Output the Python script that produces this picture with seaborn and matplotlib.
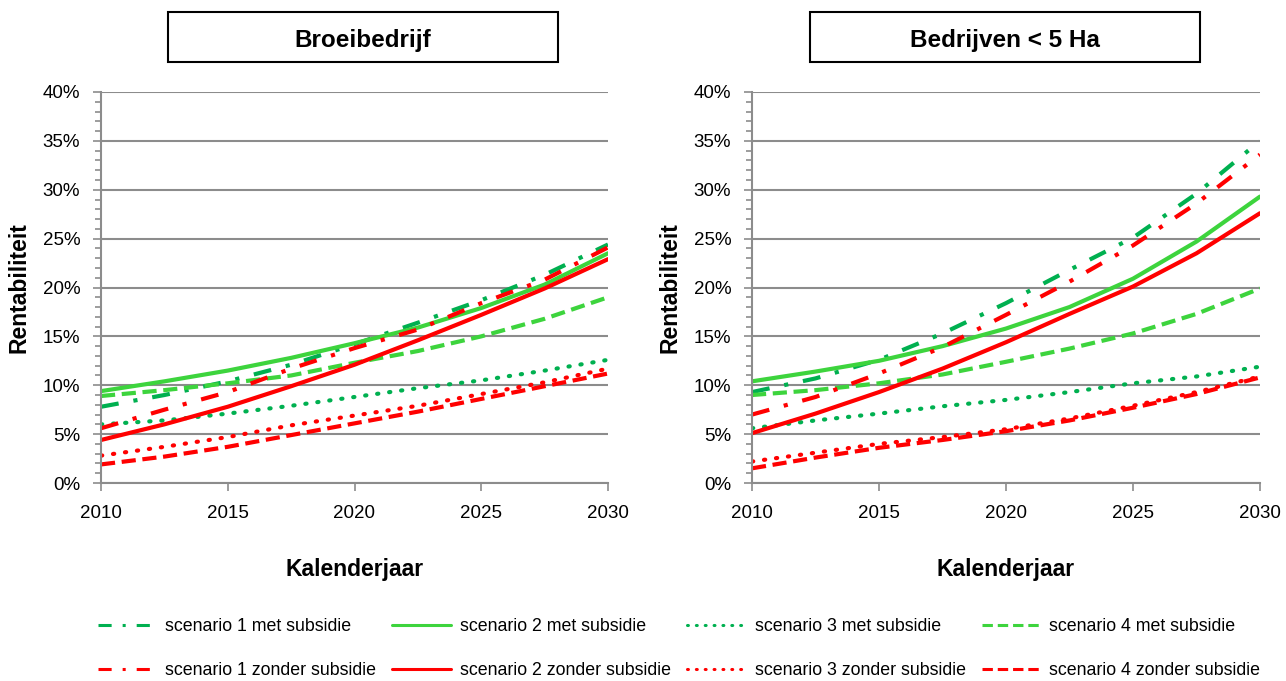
import seaborn as sns
import matplotlib.pyplot as plt
import matplotlib.patches as mpatches
from matplotlib.ticker import MultipleLocator, PercentFormatter
import pandas as pd

# Data (percent)
years = [2010, 2012.5, 2015, 2017.5, 2020, 2022.5, 2025, 2027.5, 2030]

broei = {
    'scenario 1 met subsidie':    [7.8, 9.0, 10.4, 12.1, 14.2, 16.4, 18.7, 21.3, 24.4],
    'scenario 2 met subsidie':    [9.4, 10.4, 11.5, 12.8, 14.3, 15.9, 17.9, 20.3, 23.5],
    'scenario 3 met subsidie':    [6.0, 6.4, 7.1, 7.9, 8.8, 9.7, 10.5, 11.5, 12.6],
    'scenario 4 met subsidie':    [8.9, 9.5, 10.2, 11.0, 12.3, 13.5, 15.0, 16.8, 19.0],
    'scenario 1 zonder subsidie': [5.6, 7.5, 9.3, 11.7, 13.8, 15.7, 18.4, 20.8, 24.1],
    'scenario 2 zonder subsidie': [4.4, 6.0, 7.8, 9.9, 12.1, 14.6, 17.2, 19.9, 22.9],
    'scenario 3 zonder subsidie': [2.8, 3.7, 4.7, 5.9, 6.9, 7.9, 9.1, 10.3, 11.7],
    'scenario 4 zonder subsidie': [1.9, 2.7, 3.7, 4.9, 6.1, 7.3, 8.6, 9.9, 11.2],
}

klein = {
    'scenario 1 met subsidie':    [9.3, 10.7, 12.6, 15.3, 18.4, 21.8, 25.1, 29.6, 35.0],
    'scenario 2 met subsidie':    [10.4, 11.4, 12.5, 14.0, 15.8, 18.0, 20.9, 24.7, 29.3],
    'scenario 3 met subsidie':    [5.6, 6.4, 7.1, 7.85, 8.5, 9.3, 10.2, 10.9, 11.9],
    'scenario 4 met subsidie':    [9.0, 9.5, 10.2, 11.1, 12.4, 13.75, 15.3, 17.3, 19.9],
    'scenario 1 zonder subsidie': [7.0, 8.8, 11.2, 13.9, 17.2, 20.6, 24.3, 28.6, 33.6],
    'scenario 2 zonder subsidie': [5.1, 7.1, 9.3, 11.7, 14.4, 17.3, 20.1, 23.5, 27.6],
    'scenario 3 zonder subsidie': [2.2, 3.1, 4.0, 4.7, 5.5, 6.6, 7.9, 9.3, 10.9],
    'scenario 4 zonder subsidie': [1.5, 2.6, 3.6, 4.4, 5.3, 6.4, 7.7, 9.1, 10.8],
}

titles = ['Broeibedrijf', 'Bedrijven < 5 Ha']

dark_green = '#00B050'
light_green = '#3DD43D'
red = '#FF0000'

dashdot = (4.3, 3.6, 1, 3.6)
dotted = (0.3, 2.6)
dashed = (3.4, 1.6)
styles = {
    'scenario 1 met subsidie':    (dark_green, dashdot),
    'scenario 2 met subsidie':    (light_green, None),
    'scenario 3 met subsidie':    (dark_green, dotted),
    'scenario 4 met subsidie':    (light_green, dashed),
    'scenario 1 zonder subsidie': (red, dashdot),
    'scenario 2 zonder subsidie': (red, None),
    'scenario 3 zonder subsidie': (red, dotted),
    'scenario 4 zonder subsidie': (red, dashed),
}

sns.set_style("white")
plt.rcParams['font.family'] = ['Liberation Sans Narrow', 'Liberation Sans', 'DejaVu Sans']
for k in ['text.color', 'axes.labelcolor', 'xtick.labelcolor', 'ytick.labelcolor']:
    plt.rcParams[k] = 'black'

fig = plt.figure(figsize=(12.86, 6.81), dpi=100)
W, H = 1286, 681
axes = [fig.add_axes([101 / W, (H - 483) / H, 507 / W, 391 / H]),
        fig.add_axes([752 / W, (H - 483) / H, 508 / W, 391 / H])]
boxes = [(168, 558), (810, 1200)]

for ax, data, title, (bx0, bx1) in zip(axes, [broei, klein], titles, boxes):
    for name, vals in data.items():
        color, dash = styles[name]
        df = pd.DataFrame({'jaar': years, 'r': vals})
        sns.lineplot(data=df, x='jaar', y='r', ax=ax, color=color, lw=3, label=name)
        line = ax.get_lines()[-1]
        if dash:
            line.set_dashes(dash)
            line.set_dash_capstyle('round' if dash == dotted else 'butt')
    ax.get_legend().remove()
    ax.set_xlim(2010, 2030)
    ax.set_ylim(0, 40)
    ax.set_xticks([2010, 2015, 2020, 2025, 2030])
    ax.yaxis.set_major_locator(MultipleLocator(5))
    ax.yaxis.set_minor_locator(MultipleLocator(1))
    ax.yaxis.set_major_formatter(PercentFormatter(decimals=0))
    ax.grid(axis='y', color='#8C8C8C', lw=1.5)
    ax.set_axisbelow(True)
    for s in ['top', 'right']:
        ax.spines[s].set_visible(False)
    for s in ['left', 'bottom']:
        ax.spines[s].set_color('#8C8C8C')
        ax.spines[s].set_linewidth(1.5)
    ax.tick_params(axis='both', which='both', direction='out', color='#8C8C8C',
                   labelsize=13.5, width=1.2)
    ax.tick_params(axis='y', which='major', length=6, left=True, pad=9)
    ax.tick_params(axis='y', which='minor', length=4, left=True)
    ax.tick_params(axis='x', which='major', length=6, bottom=True, pad=10)
    ax.set_xlabel('Kalenderjaar', fontsize=16.5, fontweight='bold', labelpad=26)
    ax.set_ylabel('Rentabiliteit', fontsize=16.5, fontweight='bold', labelpad=9)

    # title box
    rect = mpatches.Rectangle((bx0 / W, (H - 62) / H), (bx1 - bx0) / W, 50 / H,
                              transform=fig.transFigure, fill=False,
                              edgecolor='black', lw=1.5)
    fig.patches.append(rect)
    fig.text((bx0 + bx1) / 2 / W, (H - 40) / H, title, ha='center', va='center',
             fontsize=17.5, fontweight='bold')

# legend, column-major order
handles, labels = axes[0].get_lines(), list(broei.keys())
order = [0, 4, 1, 5, 2, 6, 3, 7]
leg = fig.legend([handles[i] for i in order], [labels[i] for i in order],
                 loc='lower center', bbox_to_anchor=(0.528, -0.021), ncol=4,
                 frameon=False, fontsize=12.8, handlelength=3.3, columnspacing=0.9,
                 labelspacing=1.55, handletextpad=0.5)
for h in leg.get_lines():
    h.set_linewidth(2.2)

plt.savefig('out.png', dpi=100)
